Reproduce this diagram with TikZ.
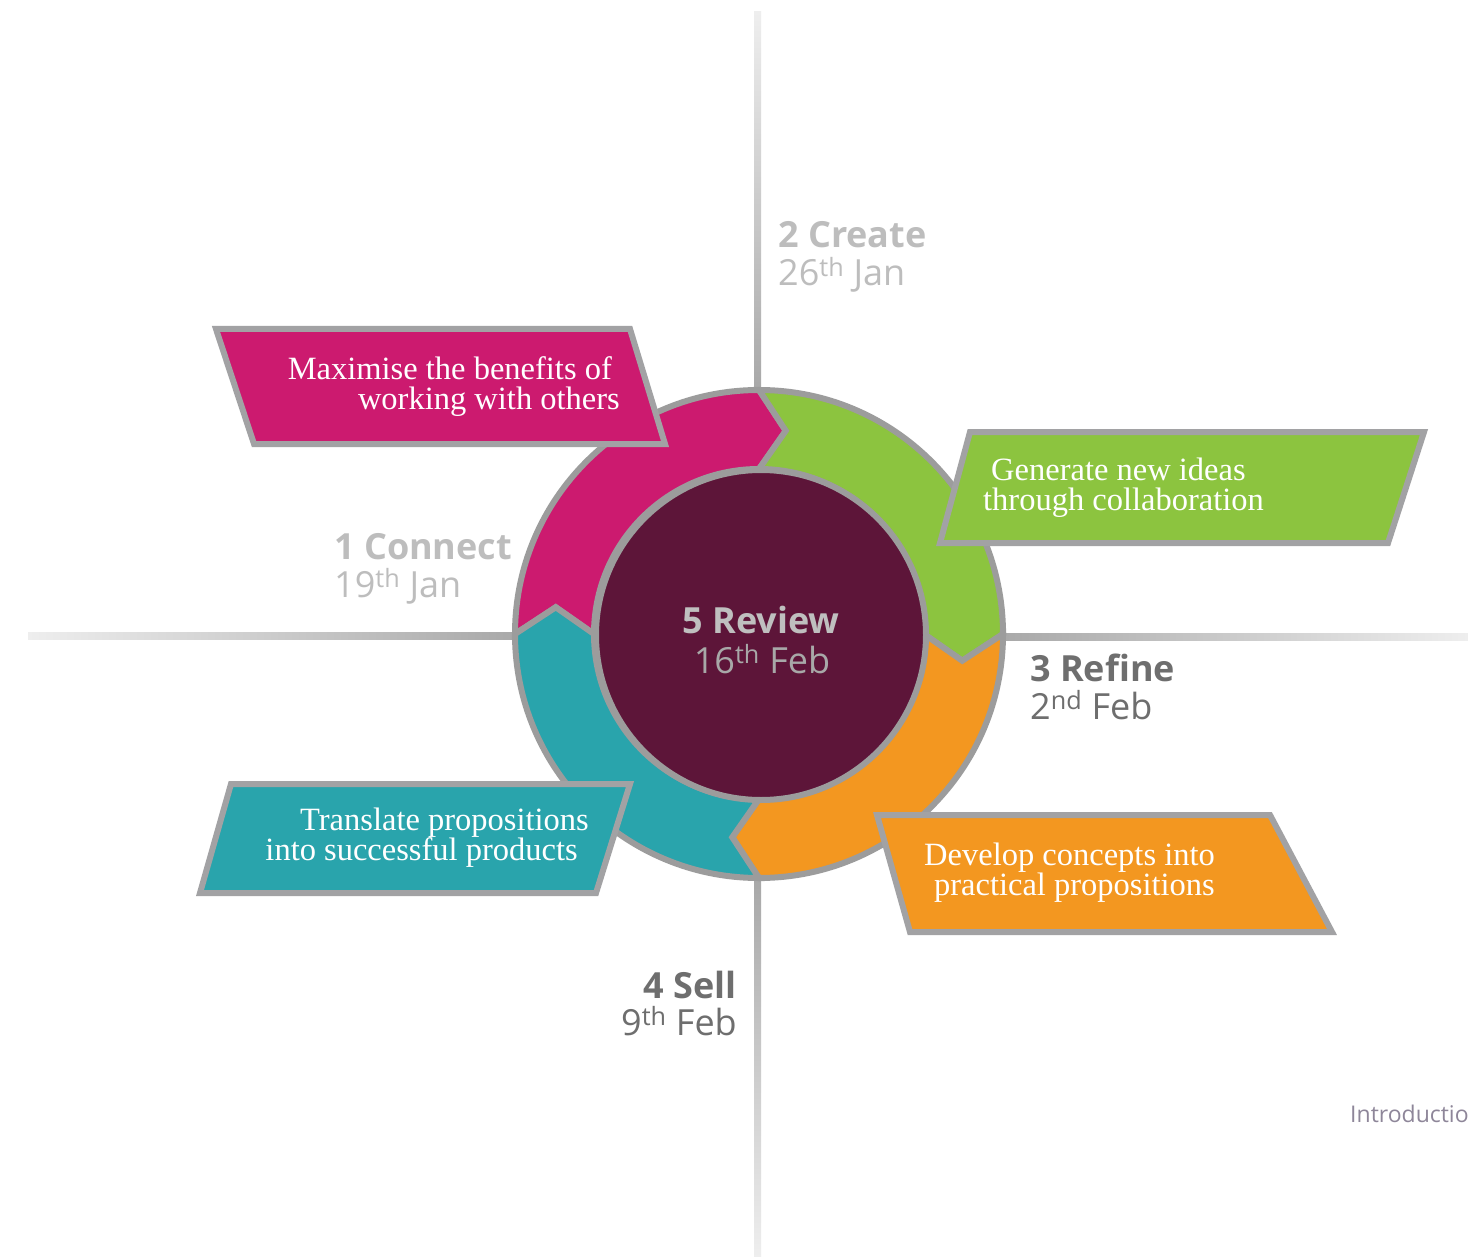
\documentclass[tikz,border=0pt]{standalone}
\usepackage{fontspec}
\setmainfont{Liberation Serif}
\setsansfont{Open Sans}
\definecolor{cpink}{RGB}{204,26,111}
\definecolor{cgreen}{RGB}{140,196,63}
\definecolor{corange}{RGB}{243,151,32}
\definecolor{cteal}{RGB}{41,164,172}
\definecolor{cmaroon}{RGB}{93,21,57}
\definecolor{cring}{RGB}{156,156,156}
\definecolor{cbox}{RGB}{162,162,164}
\definecolor{clight}{RGB}{189,189,189}
\definecolor{cdark}{RGB}{110,110,110}
\definecolor{cintro}{RGB}{142,134,153}
\definecolor{creview}{RGB}{191,191,191}
\definecolor{creviewdate}{RGB}{168,168,168}
\definecolor{axisdark}{RGB}{168,168,168}
\definecolor{axislight}{RGB}{238,238,238}
\newcommand{\twolinesR}[2]{\vtop{\lineskiplimit=-100pt\halign{\hfil##\cr #1\cr #2\cr}}}
\newcommand{\twolinesL}[2]{\vtop{\lineskiplimit=-100pt\halign{##\hfil\cr #1\cr #2\cr}}}
\tikzset{
  ringseg/.style={draw=cring, line width=6pt, line join=miter},
  infobox/.style={draw=cbox, line width=6pt, line join=miter},
  boxtext/.style={text=white, inner sep=0pt, font=\fontsize{32.5}{30}\selectfont},
  stagehead/.style={inner sep=0pt, font=\sffamily\bfseries\fontsize{36}{38}\selectfont},
  stagedate/.style={inner sep=0pt, font=\sffamily\fontsize{36}{38}\selectfont},
}
\begin{document}
\begin{tikzpicture}[x=1pt, y=-1pt]
\clip (0,0) rectangle (1468,1257);
\fill[white] (0,0) rectangle (1468,1257);
% axis lines
\shade[left color=axislight, right color=axisdark] (28,632) rectangle (520,639);
\shade[left color=axisdark, right color=axislight] (998,633) rectangle (1468,640);
\shade[top color=axislight, bottom color=axisdark] (754,12) rectangle (761,390);
\shade[top color=axisdark, bottom color=axislight] (754,880) rectangle (761,1257);
% ring segments
\begin{scope}[shift={(759,634)}, y=1pt]
  \foreach \s/\c in {180/cpink, 90/cgreen, 0/corange, -90/cteal}{
    \filldraw[ringseg, fill=\c] (\s:244) arc[start angle=\s, end angle=\s-90, radius=244]
      -- ({\s-90-7.5}:205) -- ({\s-90}:165)
      arc[start angle=\s-90, end angle=\s, radius=165]
      -- ({\s-7.5}:205) -- cycle;
  }
\end{scope}
\node (hub) [circle, fill=cmaroon, draw=cring, line width=6pt, minimum size=330pt, inner sep=0pt] at (761,635) {};
% boxes
\filldraw[infobox, fill=cpink] (216,329) -- (630,329) -- (665,444) -- (254,444) -- cycle;
\filldraw[infobox, fill=cgreen] (970,432) -- (1424,432) -- (1388,543) -- (940,543) -- cycle;
\filldraw[infobox, fill=cteal] (231,784) -- (630,784) -- (596,893) -- (200,893) -- cycle;
\filldraw[infobox, fill=corange] (877,815) -- (1270,815) -- (1332,932) -- (910,932) -- cycle;
% box texts
\node (pinktext) [boxtext, anchor=base east] at (620,380)
  {\twolinesR{Maximise the benefits of\hspace{8pt}}{working with others}};
\node (greentext) [boxtext, anchor=base west] at (983,480)
  {\twolinesL{\hspace{8pt}Generate new ideas}{through collaboration}};
\node (tealtext) [boxtext, anchor=base east] at (589,830)
  {\twolinesR{Translate propositions}{into successful products\hspace{11pt}}};
\node (orangetext) [boxtext, anchor=base east] at (1215,865)
  {\twolinesR{Develop concepts into}{practical propositions}};
% stage labels
\node (create) [stagehead, text=clight, anchor=base west] at (778,248) {2 Create};
\node (createdate) [stagedate, text=clight, anchor=base west] at (778,286) {26\textsuperscript{th} Jan};
\node (connect) [stagehead, text=clight, anchor=base west] at (334,559) {1 Connect};
\node (connectdate) [stagedate, text=clight, anchor=base west] at (334,597) {19\textsuperscript{th} Jan};
\node (refine) [stagehead, text=cdark, anchor=base west] at (1030,681) {3 Refine};
\node (refinedate) [stagedate, text=cdark, anchor=base west] at (1030,719) {2\textsuperscript{nd} Feb};
\node (sell) [stagehead, text=cdark, anchor=base east] at (737,998) {4 Sell};
\node (selldate) [stagedate, text=cdark, anchor=base east] at (737,1035) {9\textsuperscript{th} Feb};
\node (review) [stagehead, text=creview, anchor=base] at (761,633) {5 Review};
\node (reviewdate) [stagedate, text=creviewdate, anchor=base] at (762,673) {16\textsuperscript{th} Feb};
\node (intro) [inner sep=0pt, anchor=base west, text=cintro, font=\sffamily\fontsize{23}{28}\selectfont] at (1350,1122) {Introduction};
\end{tikzpicture}
\end{document}
